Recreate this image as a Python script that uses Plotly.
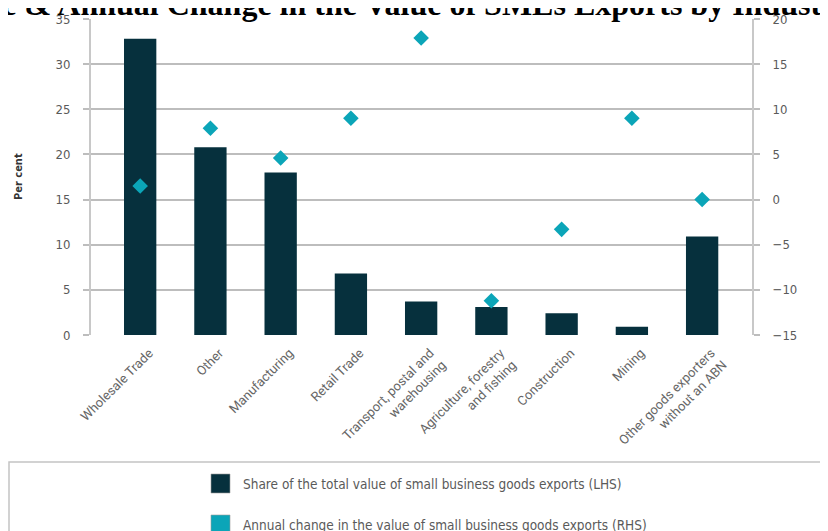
import plotly.graph_objects as go

categories = [
    "Wholesale Trade", "Other", "Manufacturing", "Retail Trade",
    "Transport, postal and<br>warehousing", "Agriculture, forestry<br>and fishing",
    "Construction", "Mining", "Other goods exporters<br>without an ABN",
]
share_lhs = [32.8, 20.8, 18.0, 6.8, 3.7, 3.1, 2.4, 0.9, 10.9]
change_rhs = [1.5, 7.9, 4.6, 9.0, 17.9, -11.2, -3.3, 9.0, 0.0]
lhs_ticks = [0, 5, 10, 15, 20, 25, 30, 35]
rhs_ticks = [-15, -10, -5, 0, 5, 10, 15, 20]
series_names = [
    "Share of the total value of small business goods exports (LHS)",
    "Annual change in the value of small business goods exports (RHS)",
]
title_text = "Share & Annual Change in the Value of SMEs Exports by Industry"

BAR = "#06303D"
TEAL = "#0BA5B8"
GRID = "#bdbdbd"
TXT = "#5a5a5a"
FONT = "Liberation Sans Narrow, DejaVu Sans Condensed, sans-serif"

x_idx = list(range(len(categories)))

fig = go.Figure()
fig.add_trace(go.Bar(
    x=x_idx, y=share_lhs, name=series_names[0], marker_color=BAR,
    marker_line_width=0, width=0.46, yaxis="y", showlegend=False,
))
fig.add_trace(go.Scatter(
    x=x_idx, y=change_rhs, name=series_names[1], mode="markers",
    marker=dict(symbol="diamond", size=12, color=TEAL), yaxis="y2", showlegend=False,
))

OFF = 8  # page body margin offset
W, H = 828 - OFF, 531 - OFF
# plot area in screen pixels: x 91..752, y 19..335
L = 91 - OFF
T = 19 - OFF
R = W - (752 - OFF)
B = H - (335 - OFF)
pw = W - L - R
ph = H - T - B

def px_x(p):
    # screen px -> paper
    return (p - OFF - L) / pw

def px_y(p):
    return (H - B - (p - OFF)) / ph

shapes = []
annotations = []
# legend box
shapes.append(dict(type="rect", xref="paper", yref="paper",
                   x0=px_x(9), x1=px_x(845), y0=px_y(550), y1=px_y(462),
                   line=dict(color="#c4c4c4", width=1.5), fillcolor="rgba(0,0,0,0)"))
for i, (name, col) in enumerate(zip(series_names, [BAR, TEAL])):
    cy = 483.5 + i * 41
    shapes.append(dict(type="rect", xref="paper", yref="paper",
                       x0=px_x(211), x1=px_x(230), y0=px_y(cy + 9.5), y1=px_y(cy - 9.5),
                       line=dict(color="#9a9a9a", width=0.6), fillcolor=col))
    annotations.append(dict(xref="paper", yref="paper", x=px_x(241), y=px_y(cy),
                            xanchor="left", yanchor="middle", showarrow=False,
                            text=name, font=dict(family=FONT, size=13.5, color=TXT)))

annotations.append(dict(xref="paper", yref="paper", x=px_x(18), y=px_y(177),
                        xanchor="center", yanchor="middle", showarrow=False, textangle=-90,
                        text="<b>Per cent</b>", font=dict(family=FONT, size=11, color="#333")))
annotations.append(dict(xref="paper", yref="paper", x=px_x(824), y=px_y(177),
                        xanchor="left", yanchor="middle", showarrow=False, textangle=-90,
                        text="<b>Per cent</b>", font=dict(family=FONT, size=11, color="#333")))
# title (partly outside the window, as in the reference)
annotations.append(dict(xref="paper", yref="paper", x=px_x(394), y=px_y(4),
                        xanchor="center", yanchor="middle", showarrow=False,
                        text="<b>" + title_text + "</b>",
                        font=dict(family="Liberation Serif, Times New Roman, serif", size=32, color="black")))

fig.update_layout(
    width=W, height=H,
    margin=dict(l=L, r=R, t=T, b=B, pad=0),
    paper_bgcolor="white", plot_bgcolor="white",
    xaxis=dict(
        tickmode="array", tickvals=x_idx, ticktext=categories, tickangle=-45,
        range=[-0.70, 8.71], showgrid=False, zeroline=False, showline=False,
        ticks="", tickfont=dict(family="Roboto, sans-serif", size=13, color="#666"),
        ticklabelstandoff=7, ticklabelshift=9,
        automargin=False,
    ),
    yaxis=dict(
        range=[0, 35], tickvals=lhs_ticks, showgrid=True, gridcolor=GRID, gridwidth=1.5,
        zeroline=False, showline=True, linecolor="#c8c8c8", linewidth=2,
        ticks="outside", ticklen=6, tickcolor=GRID, tickwidth=1.5,
        ticklabelstandoff=10, tickfont=dict(family=FONT, size=13, color=TXT),
        automargin=False,
    ),
    yaxis2=dict(
        range=[-15, 20], tickvals=rhs_ticks, overlaying="y", side="right",
        showgrid=False, zeroline=False, showline=True, linecolor="#c8c8c8", linewidth=2,
        ticks="outside", ticklen=6, tickcolor=GRID, tickwidth=1.5,
        ticklabelstandoff=10, tickfont=dict(family=FONT, size=13, color=TXT),
        automargin=False,
    ),
    shapes=shapes,
    annotations=annotations,
)

fig.write_html("out.html")
